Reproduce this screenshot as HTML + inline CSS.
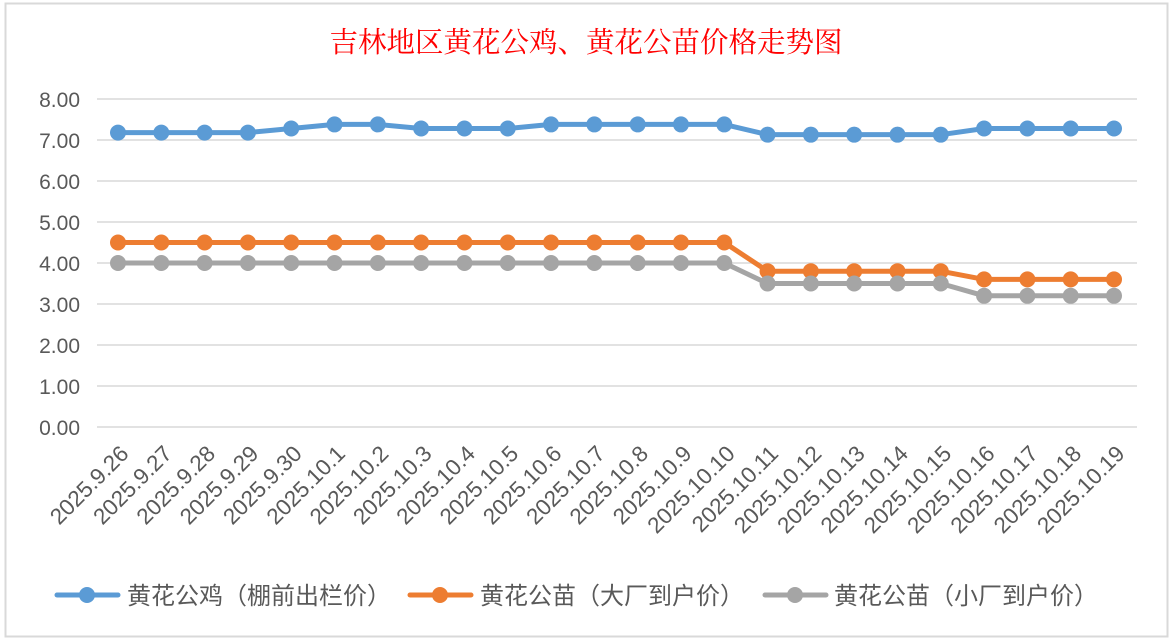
<!DOCTYPE html>
<html><head><meta charset="utf-8"><style>
html,body{margin:0;padding:0;background:#fff;}
svg{display:block;}
</style></head><body>
<svg width="1173" height="641" xmlns="http://www.w3.org/2000/svg">
<rect x="0" y="0" width="1173" height="641" fill="#fff"/>
<rect x="5.5" y="3.5" width="1162" height="633" fill="#fff" stroke="#d9d9d9" stroke-width="2"/>
<text x="586" y="52" text-anchor="middle" font-family="'Liberation Serif','Noto Serif CJK SC',serif" font-size="28.5" fill="#ff0000">吉林地区黄花公鸡、黄花公苗价格走势图</text>
<g stroke="#d9d9d9" stroke-width="1.5">
<line x1="97" x2="1137" y1="99" y2="99"/><line x1="97" x2="1137" y1="140" y2="140"/><line x1="97" x2="1137" y1="181" y2="181"/><line x1="97" x2="1137" y1="222" y2="222"/><line x1="97" x2="1137" y1="263" y2="263"/><line x1="97" x2="1137" y1="304" y2="304"/><line x1="97" x2="1137" y1="345" y2="345"/><line x1="97" x2="1137" y1="386" y2="386"/><line x1="97" x2="1137" y1="427" y2="427"/>
</g>
<g font-family="'Liberation Sans',sans-serif" font-size="21" fill="#595959" text-anchor="end">
<text x="80" y="107">8.00</text><text x="80" y="148">7.00</text><text x="80" y="189">6.00</text><text x="80" y="230">5.00</text><text x="80" y="271">4.00</text><text x="80" y="312">3.00</text><text x="80" y="353">2.00</text><text x="80" y="394">1.00</text><text x="80" y="435">0.00</text>
</g>
<g id="labels" font-family="'Liberation Sans',sans-serif" font-size="22.5" fill="#595959" text-anchor="end"></g>
<g id="series"></g>
<g font-family="'Liberation Sans','Noto Sans CJK SC',sans-serif" font-size="24" fill="#595959">
<line x1="57" x2="118" y1="595" y2="595" stroke="#5b9bd5" stroke-width="5" stroke-linecap="round"/><circle cx="87" cy="595" r="8" fill="#5b9bd5"/>
<text x="127" y="604">黄花公鸡（棚前出栏价）</text>
<line x1="410" x2="471" y1="595" y2="595" stroke="#ed7d31" stroke-width="5" stroke-linecap="round"/><circle cx="440" cy="595" r="8" fill="#ed7d31"/>
<text x="480" y="604">黄花公苗（大厂到户价）</text>
<line x1="765" x2="826" y1="595" y2="595" stroke="#a5a5a5" stroke-width="5" stroke-linecap="round"/><circle cx="795" cy="595" r="8" fill="#a5a5a5"/>
<text x="834" y="604">黄花公苗（小厂到户价）</text>
</g>
<script>
var ns="http://www.w3.org/2000/svg";
var labs=["2025.9.26","2025.9.27","2025.9.28","2025.9.29","2025.9.30","2025.10.1","2025.10.2","2025.10.3","2025.10.4","2025.10.5","2025.10.6","2025.10.7","2025.10.8","2025.10.9","2025.10.10","2025.10.11","2025.10.12","2025.10.13","2025.10.14","2025.10.15","2025.10.16","2025.10.17","2025.10.18","2025.10.19"];
var a=[7.18,7.18,7.18,7.18,7.28,7.38,7.38,7.28,7.28,7.28,7.38,7.38,7.38,7.38,7.38,7.13,7.13,7.13,7.13,7.13,7.28,7.28,7.28,7.28];
var b=[],c=[];for(var i=0;i<24;i++){b.push(i<15?4.5:(i<20?3.8:3.6));c.push(i<15?4.0:(i<20?3.5:3.2));}
function X(i){return 118+i*(1114-118)/23;}function Y(v){return 427-v*41;}
var L=document.getElementById("labels");
labs.forEach(function(t,i){var e=document.createElementNS(ns,"text");var x=X(i)+12,y=455;e.setAttribute("x",x);e.setAttribute("y",y);e.setAttribute("transform","rotate(-45 "+x+" "+y+")");e.textContent=t;L.appendChild(e);});
var S=document.getElementById("series");
[[a,"#5b9bd5"],[b,"#ed7d31"],[c,"#a5a5a5"]].forEach(function(s){var p=s[0].map(function(v,i){return X(i)+","+Y(v);}).join(" ");var pl=document.createElementNS(ns,"polyline");pl.setAttribute("points",p);pl.setAttribute("fill","none");pl.setAttribute("stroke",s[1]);pl.setAttribute("stroke-width","5");pl.setAttribute("stroke-linejoin","round");S.appendChild(pl);s[0].forEach(function(v,i){var ci=document.createElementNS(ns,"circle");ci.setAttribute("cx",X(i));ci.setAttribute("cy",Y(v));ci.setAttribute("r","8");ci.setAttribute("fill",s[1]);S.appendChild(ci);});});
</script>
</svg>
</body></html>
